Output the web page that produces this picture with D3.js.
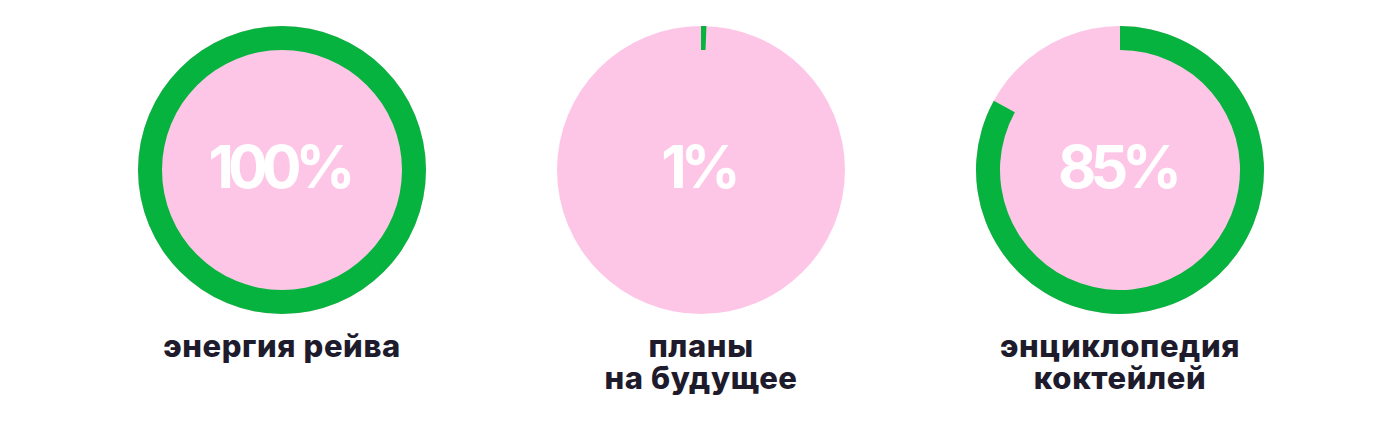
<!DOCTYPE html>
<html>
<head>
<meta charset="utf-8">
<script src="https://cdn.jsdelivr.net/npm/d3@7"></script>
<style>
  html, body { margin: 0; padding: 0; background: #ffffff; }
  svg { display: block; }
</style>
</head>
<body>
<svg id="chart" width="1398" height="438"></svg>
<script>
// ---- data ----
const categories = ["энергия рейва", "планы на будущее", "энциклопедия коктейлей"];
const labelLines = [["энергия рейва"], ["планы", "на будущее"], ["энциклопедия", "коктейлей"]];
const values = [100, 0.6, 83];            // arc share as drawn (percent)
const valueLabels = ["100%", "1%", "85%"]; // printed values

// ---- layout ----
const W = 1398, H = 438;
const cy = 170, outerR = 144, innerR = 120;
const green = "#06b33f", pink = "#fec6e6", ink = "#1d1b2c";

const svg = d3.select("#chart");
const x = d3.scalePoint().domain(categories).range([282, 1120]);
const angle = d3.scaleLinear().domain([0, 100]).range([0, 2 * Math.PI]);
const arc = d3.arc().innerRadius(innerR).outerRadius(outerR).startAngle(0);

const g = svg.selectAll("g.donut")
  .data(categories.map((c, i) => ({c, v: values[i], lbl: valueLabels[i], lines: labelLines[i]})))
  .join("g")
  .attr("class", "donut")
  .attr("transform", d => `translate(${x(d.c)},${cy})`);

g.append("circle").attr("r", outerR).attr("fill", pink);

g.append("path")
  .attr("fill", green)
  .attr("d", d => arc({endAngle: angle(d.v)}));

g.append("text")
  .attr("text-anchor", "middle")
  .attr("x", -3)
  .attr("y", 18)
  .attr("fill", "#ffffff")
  .style("font-family", "Inter, 'Liberation Sans', sans-serif")
  .style("font-weight", 700)
  .style("font-size", "59px")
  .style("letter-spacing", "-6px")
  .text(d => d.lbl);

const t = g.append("text")
  .attr("text-anchor", "middle")
  .attr("fill", ink)
  .style("font-family", "Inter, 'Liberation Sans', sans-serif")
  .style("font-weight", 800)
  .style("font-size", "31px")
  .style("letter-spacing", "0.6px");

t.selectAll("tspan")
  .data(d => d.lines)
  .join("tspan")
  .attr("x", 0)
  .attr("y", (l, i) => 187 + i * 32)
  .text(l => l);
</script>
</body>
</html>
